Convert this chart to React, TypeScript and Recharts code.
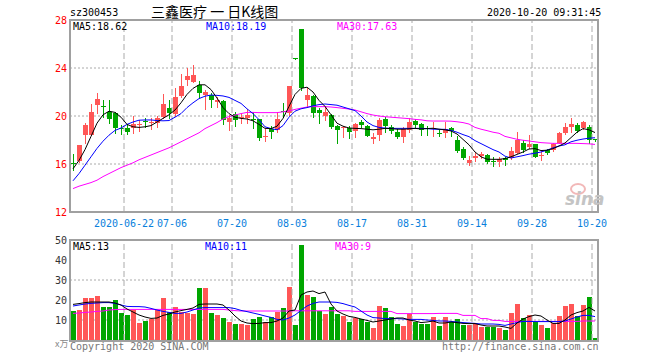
import React from 'react';
import { ComposedChart, Bar, Line, XAxis, YAxis, CartesianGrid, ReferenceLine } from 'recharts';

// trading days 2020-06-09 .. 2020-10-20
const dates = [
  '06-09', '06-10', '06-11', '06-12', '06-15', '06-16', '06-17', '06-18', '06-19', '06-22',
  '06-23', '06-24', '06-29', '06-30', '07-01', '07-02', '07-03', '07-06', '07-07', '07-08',
  '07-09', '07-10', '07-13', '07-14', '07-15', '07-16', '07-17', '07-20', '07-21', '07-22',
  '07-23', '07-24', '07-27', '07-28', '07-29', '07-30', '07-31', '08-03', '08-04', '08-05',
  '08-06', '08-07', '08-10', '08-11', '08-12', '08-13', '08-14', '08-17', '08-18', '08-19',
  '08-20', '08-21', '08-24', '08-25', '08-26', '08-27', '08-28', '08-31', '09-01', '09-02',
  '09-03', '09-04', '09-07', '09-08', '09-09', '09-10', '09-11', '09-14', '09-15', '09-16',
  '09-17', '09-18', '09-21', '09-22', '09-23', '09-24', '09-25', '09-28', '09-29', '09-30',
  '10-09', '10-12', '10-13', '10-14', '10-15', '10-16', '10-19', '10-20',
];

const open = [
  16.1, 16.28, 18.42, 18.42, 20.92, 20.8, 20.36, 20.22, 19.0, 19.03,
  19.03, 19.3, 19.55, 19.45, 19.45, 19.9, 20.64, 20.2, 21.67, 23.0,
  22.86, 22.6, 21.75, 21.75, 21.2, 21.25, 19.47, 20.14, 19.85, 19.8,
  19.72, 19.72, 18.25, 18.9, 18.83, 20.45, 20.22, 24.72, 27.25, 21.33,
  21.67, 20.5, 20.0, 20.08, 19.17, 18.97, 19.0, 18.78, 19.53, 19.17,
  18.1, 18.42, 19.72, 19.06, 18.69, 18.22, 18.83, 19.61, 19.33, 19.0,
  18.9, 18.62, 18.6, 18.97, 18.0, 17.22, 16.11, 16.47, 16.67, 16.75,
  16.22, 16.2, 16.47, 16.47, 16.94, 17.78, 17.45, 17.67, 16.73, 17.17,
  17.17, 17.78, 18.56, 19.1, 19.25, 18.97, 19.06, 18.05,
];
const close = [
  16.05, 17.58, 19.25, 20.31, 21.42, 20.75, 19.75, 19.03, 18.95, 18.7,
  19.33, 19.35, 19.5, 19.5, 19.8, 21.0, 20.22, 21.6, 22.5, 23.33,
  23.42, 21.9, 22.0, 21.33, 21.3, 19.67, 19.8, 19.67, 19.95, 20.08,
  19.68, 18.14, 18.3, 18.7, 19.72, 20.4, 22.5, 24.72, 22.36, 21.75,
  20.22, 20.22, 20.33, 19.06, 18.83, 19.11, 18.64, 19.3, 19.25, 18.36,
  18.28, 19.67, 19.17, 18.78, 18.28, 18.89, 19.53, 19.25, 18.83, 18.95,
  19.0, 18.58, 18.89, 18.78, 17.1, 16.47, 16.33, 16.67, 16.83, 16.2,
  16.18, 16.39, 16.33, 17.1, 18.0, 17.17, 17.67, 16.61, 16.77, 16.89,
  17.67, 18.61, 19.1, 19.3, 18.78, 19.5, 18.0, 18.0,
];
const high = [
  16.85, 17.62, 19.4, 20.97, 21.89, 21.33, 21.33, 20.36, 19.25, 19.25,
  20.0, 19.67, 19.8, 19.8, 20.0, 21.85, 21.33, 22.3, 23.5, 23.97,
  24.25, 22.9, 22.17, 21.9, 21.6, 21.3, 20.08, 20.3, 20.2, 20.6,
  20.3, 19.72, 18.9, 19.2, 20.3, 21.06, 22.5, 24.72, 27.25, 22.3,
  21.75, 20.64, 20.78, 20.15, 19.25, 19.2, 19.15, 19.4, 19.67, 19.25,
  18.56, 19.8, 19.94, 19.25, 18.89, 19.1, 19.8, 19.72, 19.4, 19.2,
  19.53, 18.83, 19.53, 19.05, 18.33, 17.45, 16.67, 16.89, 17.0, 16.8,
  16.6, 16.6, 16.6, 17.45, 18.7, 18.0, 18.42, 17.7, 17.17, 17.22,
  17.72, 18.7, 19.39, 19.8, 19.39, 19.55, 19.25, 18.1,
];
const low = [
  15.5, 16.2, 17.72, 18.4, 20.22, 19.94, 19.39, 18.61, 18.5, 18.5,
  18.61, 18.78, 19.1, 18.9, 19.1, 19.8, 19.8, 20.0, 21.6, 22.58,
  22.8, 21.5, 20.6, 20.78, 20.78, 19.3, 18.83, 19.2, 19.4, 19.4,
  18.97, 18.0, 17.9, 18.14, 18.7, 19.94, 20.1, 24.72, 22.2, 20.72,
  19.94, 19.4, 19.67, 18.97, 17.78, 18.22, 18.2, 18.28, 19.1, 18.3,
  17.78, 18.0, 18.7, 18.56, 18.14, 17.86, 18.7, 19.1, 18.42, 18.42,
  18.33, 18.33, 18.28, 18.33, 17.03, 16.39, 15.92, 16.28, 16.47, 16.11,
  15.83, 15.83, 15.92, 16.4, 16.9, 17.03, 17.3, 16.55, 16.33, 16.85,
  17.12, 17.72, 18.5, 18.7, 18.7, 18.9, 17.78, 17.95,
];

const ma5 = [
  15.6, 16.3, 17.2, 18.3, 19.4, 20.1, 20.4, 20.3, 19.9, 19.3,
  19.1, 19.05, 19.1, 19.2, 19.5, 19.8, 20.1, 20.5, 21.1, 21.8,
  22.3, 22.6, 22.6, 22.2, 21.5, 20.7, 20.2, 19.9, 19.8, 19.75,
  19.6, 19.3, 18.97, 18.95, 19.15, 19.8, 20.8, 21.8, 22.3, 22.4,
  22.0, 21.3, 20.8, 20.1, 19.4, 19.15, 19.0, 18.97, 18.95, 18.9,
  18.85, 18.9, 18.97, 18.95, 18.9, 18.9, 18.93, 18.97, 18.92, 18.95,
  18.98, 18.9, 18.85, 18.75, 18.5, 18.05, 17.6, 17.0, 16.6, 16.4,
  16.39, 16.39, 16.45, 16.6, 16.8, 17.0, 17.25, 17.28, 17.12, 17.15,
  17.28, 17.5, 17.75, 18.2, 18.65, 18.95, 18.85, 18.62,
];
const ma10 = [
  14.6, 15.2, 15.9, 16.6, 17.3, 17.9, 18.4, 18.8, 19.0, 19.3,
  19.5, 19.65, 19.67, 19.67, 19.62, 19.6, 19.62, 19.9, 20.2, 20.7,
  21.1, 21.45, 21.65, 21.75, 21.72, 21.67, 21.55, 21.3, 21.05, 20.6,
  20.2, 19.7, 19.1, 18.95, 18.85, 19.2, 19.9, 20.4, 20.6, 20.7,
  20.85, 20.95, 21.0, 20.95, 20.9, 20.75, 20.6, 20.45, 20.0, 19.5,
  19.2, 19.05, 18.99, 18.97, 18.97, 18.97, 18.97, 18.97, 18.97, 18.95,
  18.9, 18.89, 18.89, 18.8, 18.65, 18.45, 18.28, 17.95, 17.7, 17.45,
  17.2, 17.0, 16.65, 16.5, 16.6, 16.7, 16.82, 16.9, 17.0, 17.15,
  17.35, 17.5, 17.6, 17.85, 17.98, 18.08, 18.15, 18.19,
];
const ma30 = [
  13.95, 14.15, 14.3, 14.45, 14.65, 14.95, 15.2, 15.45, 15.7, 15.9,
  16.1, 16.35, 16.55, 16.75, 16.95, 17.15, 17.35, 17.6, 17.85, 18.1,
  18.35, 18.6, 18.95, 19.2, 19.45, 19.75, 19.95, 20.08, 20.2, 20.3,
  20.3, 20.28, 20.28, 20.28, 20.28, 20.35, 20.42, 20.55, 20.65, 20.75,
  20.78, 20.78, 20.78, 20.75, 20.7, 20.64, 20.58, 20.5, 20.35, 20.2,
  20.08, 20.0, 19.94, 19.9, 19.86, 19.82, 19.78, 19.72, 19.68, 19.6,
  19.58, 19.58, 19.58, 19.57, 19.52, 19.45, 19.33, 19.05, 18.9, 18.78,
  18.65, 18.56, 18.3, 18.18, 18.06, 17.98, 17.92, 17.85, 17.78, 17.75,
  17.72, 17.72, 17.72, 17.72, 17.72, 17.7, 17.68, 17.63,
];

// volume, 万手
const volume = [
  14.5, 15, 20.8, 20.8, 21.8, 16.5, 16.5, 20, 13.5, 12.5,
  15, 8.5, 9.5, 10.5, 15, 21, 14, 16.5, 14, 13.5,
  13, 26, 26, 13.5, 12.5, 11, 9, 8, 8, 7.5,
  10.5, 11.3, 9.2, 11.3, 13.8, 15.8, 26.5, 7.5, 47.5, 22.5,
  21.5, 14.5, 13, 16.5, 13, 12, 9, 11, 10.5, 9,
  6, 17, 16, 11.5, 8, 7, 13, 9, 8, 8,
  11.3, 7, 11.3, 9, 10.5, 7.5, 7.5, 8, 6.5, 6.5,
  6.5, 6, 5, 13.5, 17.8, 11, 12.5, 9, 7.5, 6,
  8.5, 12, 17, 17.8, 11.8, 17.5, 21.5, 1,
];
const volMa5 = [
  17.8, 18.2, 18.7, 19, 19, 19, 19, 18.5, 17.5, 15.5,
  14, 12.5, 11.5, 10.8, 11, 12.3, 13, 14, 14.7, 15.3,
  16, 17.8, 18, 18, 18, 17.5, 15, 12, 9.5, 8.5,
  8.2, 8.3, 8.7, 8.7, 9.5, 11, 14.5, 15, 22.5, 24,
  24.5, 23.2, 24, 18, 14.5, 13, 11.8, 11.3, 10.5, 9.8,
  9, 9.5, 10, 10.5, 11, 11, 10, 9.5, 8.7, 9,
  9.5, 8.5, 8.5, 9, 8.7, 8.3, 8.2, 8.2, 7.5, 7,
  7, 7, 6.5, 5.8, 8.5, 10.5, 11.7, 12.5, 12, 10,
  8.3, 8.3, 10, 12.5, 13.7, 14.5, 16.3, 14.5,
];
const volMa10 = [
  17, 17.5, 18, 18.3, 18.5, 18.7, 18.7, 18.3, 17.5, 16.8,
  16.7, 16.7, 16.5, 15.8, 15, 14.3, 13.8, 13.3, 13.3, 14,
  15, 16, 16.2, 16.2, 16.2, 16.2, 16.2, 15.7, 14.8, 14.2,
  13.5, 12.8, 12, 11.3, 10.3, 10, 11, 12.5, 14.8, 17,
  18.3, 19, 19, 19, 18.8, 18.2, 17.3, 16.5, 14.5, 12.5,
  11.2, 11, 10.7, 10.7, 10.7, 10.5, 10.3, 10.3, 10.3, 10,
  9.8, 9.5, 9.5, 9.3, 9, 8.7, 8.5, 8.3, 8, 8,
  8, 7.8, 7.3, 8, 8.7, 9.3, 9.3, 9.2, 9.2, 9.2,
  9.2, 9.2, 9.5, 10.5, 11.5, 12.3, 12.3, 11.7,
];
const volMa30 = [
  13.3, 13.5, 13.8, 14, 14.3, 14.5, 15, 15.2, 15.3, 15.3,
  15.3, 15.3, 15.3, 15.3, 15.3, 15.3, 15.3, 15.3, 15.3, 15.3,
  15.3, 15.3, 15.3, 15.3, 15.3, 15.3, 15, 14.7, 14.5, 14.5,
  14.5, 14.5, 14.5, 14.5, 14.5, 14.5, 14.5, 14.6, 14.6, 14.6,
  14.6, 14.6, 14.6, 14.6, 14.6, 14.6, 14.6, 14.3, 14.3, 14.3,
  14.3, 14.3, 14.3, 14.3, 13.2, 13.2, 13.2, 13.2, 13.2, 13.2,
  13.2, 13.3, 13.3, 13.3, 13.3, 12.3, 12.3, 12.3, 10.7, 10.7,
  9.8, 9.8, 9.3, 9.3, 9.3, 9.3, 9.3, 9.3, 9.3, 9.3,
  9.3, 9.3, 9.3, 9.3, 9.3, 9.5, 9.5, 9.5,
];

const tickDates = ['06-22', '07-06', '07-20', '08-03', '08-17', '08-31', '09-14', '09-28', '10-20'];
const priceTicks = [12, 16, 20, 24, 28];
const volTicks = [10, 20, 30, 40, 50];

const UP = '#ff5656';
const DOWN = '#00a600';
const GRID = '#aaaaaa';
const MONO = '"DejaVu Sans Mono", monospace';

const rows = dates.map((d, i) => ({
  d,
  open: open[i],
  close: close[i],
  high: high[i],
  low: low[i],
  ma5: ma5[i],
  ma10: ma10[i],
  ma30: ma30[i],
  vol: volume[i],
  vma5: volMa5[i],
  vma10: volMa10[i],
  vma30: volMa30[i],
}));

const Candle = (props: any) => {
  const { x, y, width, height, payload } = props;
  const { open: o, close: c, high: h, low: l } = payload;
  const color = c > o ? UP : DOWN;
  const bs = Math.round(x + width / 2 - 3);
  const toY = (v: number) => (h === l ? y : y + ((h - v) / (h - l)) * height);
  const top = Math.round(toY(Math.max(o, c)));
  const bot = Math.round(toY(Math.min(o, c)));
  return (
    <g shapeRendering="crispEdges">
      <line x1={bs + 2.5} x2={bs + 2.5} y1={Math.round(y)} y2={Math.round(y + height) + 1} stroke={color} />
      <rect x={bs} y={top} width={5} height={Math.max(1, bot - top)} fill={color} />
    </g>
  );
};

const VolBar = (props: any) => {
  const { x, y, width, height, payload } = props;
  const color = payload.close > payload.open ? UP : DOWN;
  const bs = Math.round(x + width / 2 - 3);
  return <rect x={bs} y={Math.round(y)} width={5} height={Math.round(height)} fill={color} shapeRendering="crispEdges" />;
};

const DateTick = (props: any) => {
  const { x, y, payload } = props;
  const label = payload.value === tickDates[0] ? '2020-' + payload.value : payload.value;
  return (
    <text x={x - 3} y={y + 7} textAnchor="middle" fill="#0a7fdc" fontSize={10} fontFamily={MONO}>
      {label}
    </text>
  );
};

const gridLines = tickDates.map((t) => (
  <ReferenceLine key={t} x={t} position="start" stroke={GRID} strokeDasharray="6 3" ifOverflow="visible" />
));

const txt = (x: number, y: number, s: string, fill: string, size = 10, family = MONO) => (
  <text x={x} y={y} fill={fill} fontSize={size} fontFamily={family}>
    {s}
  </text>
);

export default function App() {
  return (
    <div style={{ position: 'absolute', left: 0, top: 0, width: 660, height: 360, background: '#fff', overflow: 'hidden' }}>
      <div style={{ position: 'absolute', left: 0, top: 0 }}>
        <ComposedChart width={660} height={240} data={rows} margin={{ top: 20, right: 62, bottom: 8, left: 50 }} barCategoryGap={0}>
          <CartesianGrid vertical={false} stroke={GRID} strokeDasharray="2 2" />
          <XAxis dataKey="d" ticks={tickDates} interval={0} tickLine={false} axisLine={false} height={20} tick={<DateTick />} />
          <YAxis
            domain={[12, 28]}
            ticks={priceTicks}
            width={20}
            axisLine={false}
            tickLine={false}
            tickSize={0}
            tickMargin={3}
            tick={{ fill: '#ff0000', fontSize: 10, fontFamily: MONO }}
          />
          {gridLines}
          <Bar dataKey={(r: any) => [r.low, r.high]} barSize={5} shape={<Candle />} minPointSize={1} isAnimationActive={false} />
          <Line dataKey="ma30" stroke="#ff00ff" strokeWidth={1} dot={false} isAnimationActive={false} />
          <Line dataKey="ma10" stroke="#0000ff" strokeWidth={1} dot={false} isAnimationActive={false} />
          <Line dataKey="ma5" stroke="#000000" strokeWidth={1} dot={false} isAnimationActive={false} />
        </ComposedChart>
      </div>
      <div style={{ position: 'absolute', left: 0, top: 230 }}>
        <ComposedChart width={660} height={120} data={rows} margin={{ top: 10, right: 62, bottom: 10, left: 50 }} barCategoryGap={0}>
          <CartesianGrid vertical={false} stroke={GRID} strokeDasharray="2 2" />
          <XAxis dataKey="d" hide />
          <YAxis
            domain={[0, 50]}
            ticks={volTicks}
            width={20}
            axisLine={false}
            tickLine={false}
            tickSize={0}
            tickMargin={3}
            tick={{ fill: '#333333', fontSize: 10, fontFamily: MONO }}
          />
          {gridLines}
          <Bar dataKey="vol" barSize={5} shape={<VolBar />} isAnimationActive={false} />
          <Line dataKey="vma30" stroke="#ff00ff" strokeWidth={1} dot={false} isAnimationActive={false} />
          <Line dataKey="vma10" stroke="#0000ff" strokeWidth={1} dot={false} isAnimationActive={false} />
          <Line dataKey="vma5" stroke="#000000" strokeWidth={1} dot={false} isAnimationActive={false} />
        </ComposedChart>
      </div>
      <div style={{ position: 'absolute', left: 69, top: 19, width: 530, height: 194, border: '2px solid #a0a0a0', boxSizing: 'border-box', pointerEvents: 'none' }} />
      <div style={{ position: 'absolute', left: 69, top: 239, width: 530, height: 103, border: '2px solid #a0a0a0', boxSizing: 'border-box', pointerEvents: 'none' }} />
      <svg width={660} height={360} style={{ position: 'absolute', left: 0, top: 0, pointerEvents: 'none' }}>
        {txt(70, 16, 'sz300453', '#000')}
        {txt(151, 17, '三鑫医疗 一 日K线图', '#000', 14, '"Noto Sans CJK SC", sans-serif')}
        {txt(487, 16, '2020-10-20 09:31:45', '#000')}
        {txt(73, 30, 'MA5:18.62', '#000')}
        {txt(206, 30, 'MA10:18.19', '#0000ff')}
        {txt(337, 30, 'MA30:17.63', '#ff00ff')}
        {txt(73, 250, 'MA5:13', '#000')}
        {txt(205, 250, 'MA10:11', '#0000ff')}
        {txt(335, 250, 'MA30:9', '#ff00ff')}
        {txt(55, 347, 'x万', '#888', 9, '"Noto Sans CJK SC", sans-serif')}
        {txt(70, 350, 'Copyright 2020 SINA.COM', '#777')}
        {txt(442, 350, 'http://finance.sina.com.cn', '#777')}
        <ellipse cx={578} cy={189} rx={7} ry={5} fill="none" stroke="#f2b8b8" strokeWidth={2} />
        <text x={565} y={205} fill="#c4c4c4" fontSize={17} fontStyle="italic" fontWeight="bold" fontFamily="DejaVu Sans, sans-serif">
          sina
        </text>
      </svg>
    </div>
  );
}
